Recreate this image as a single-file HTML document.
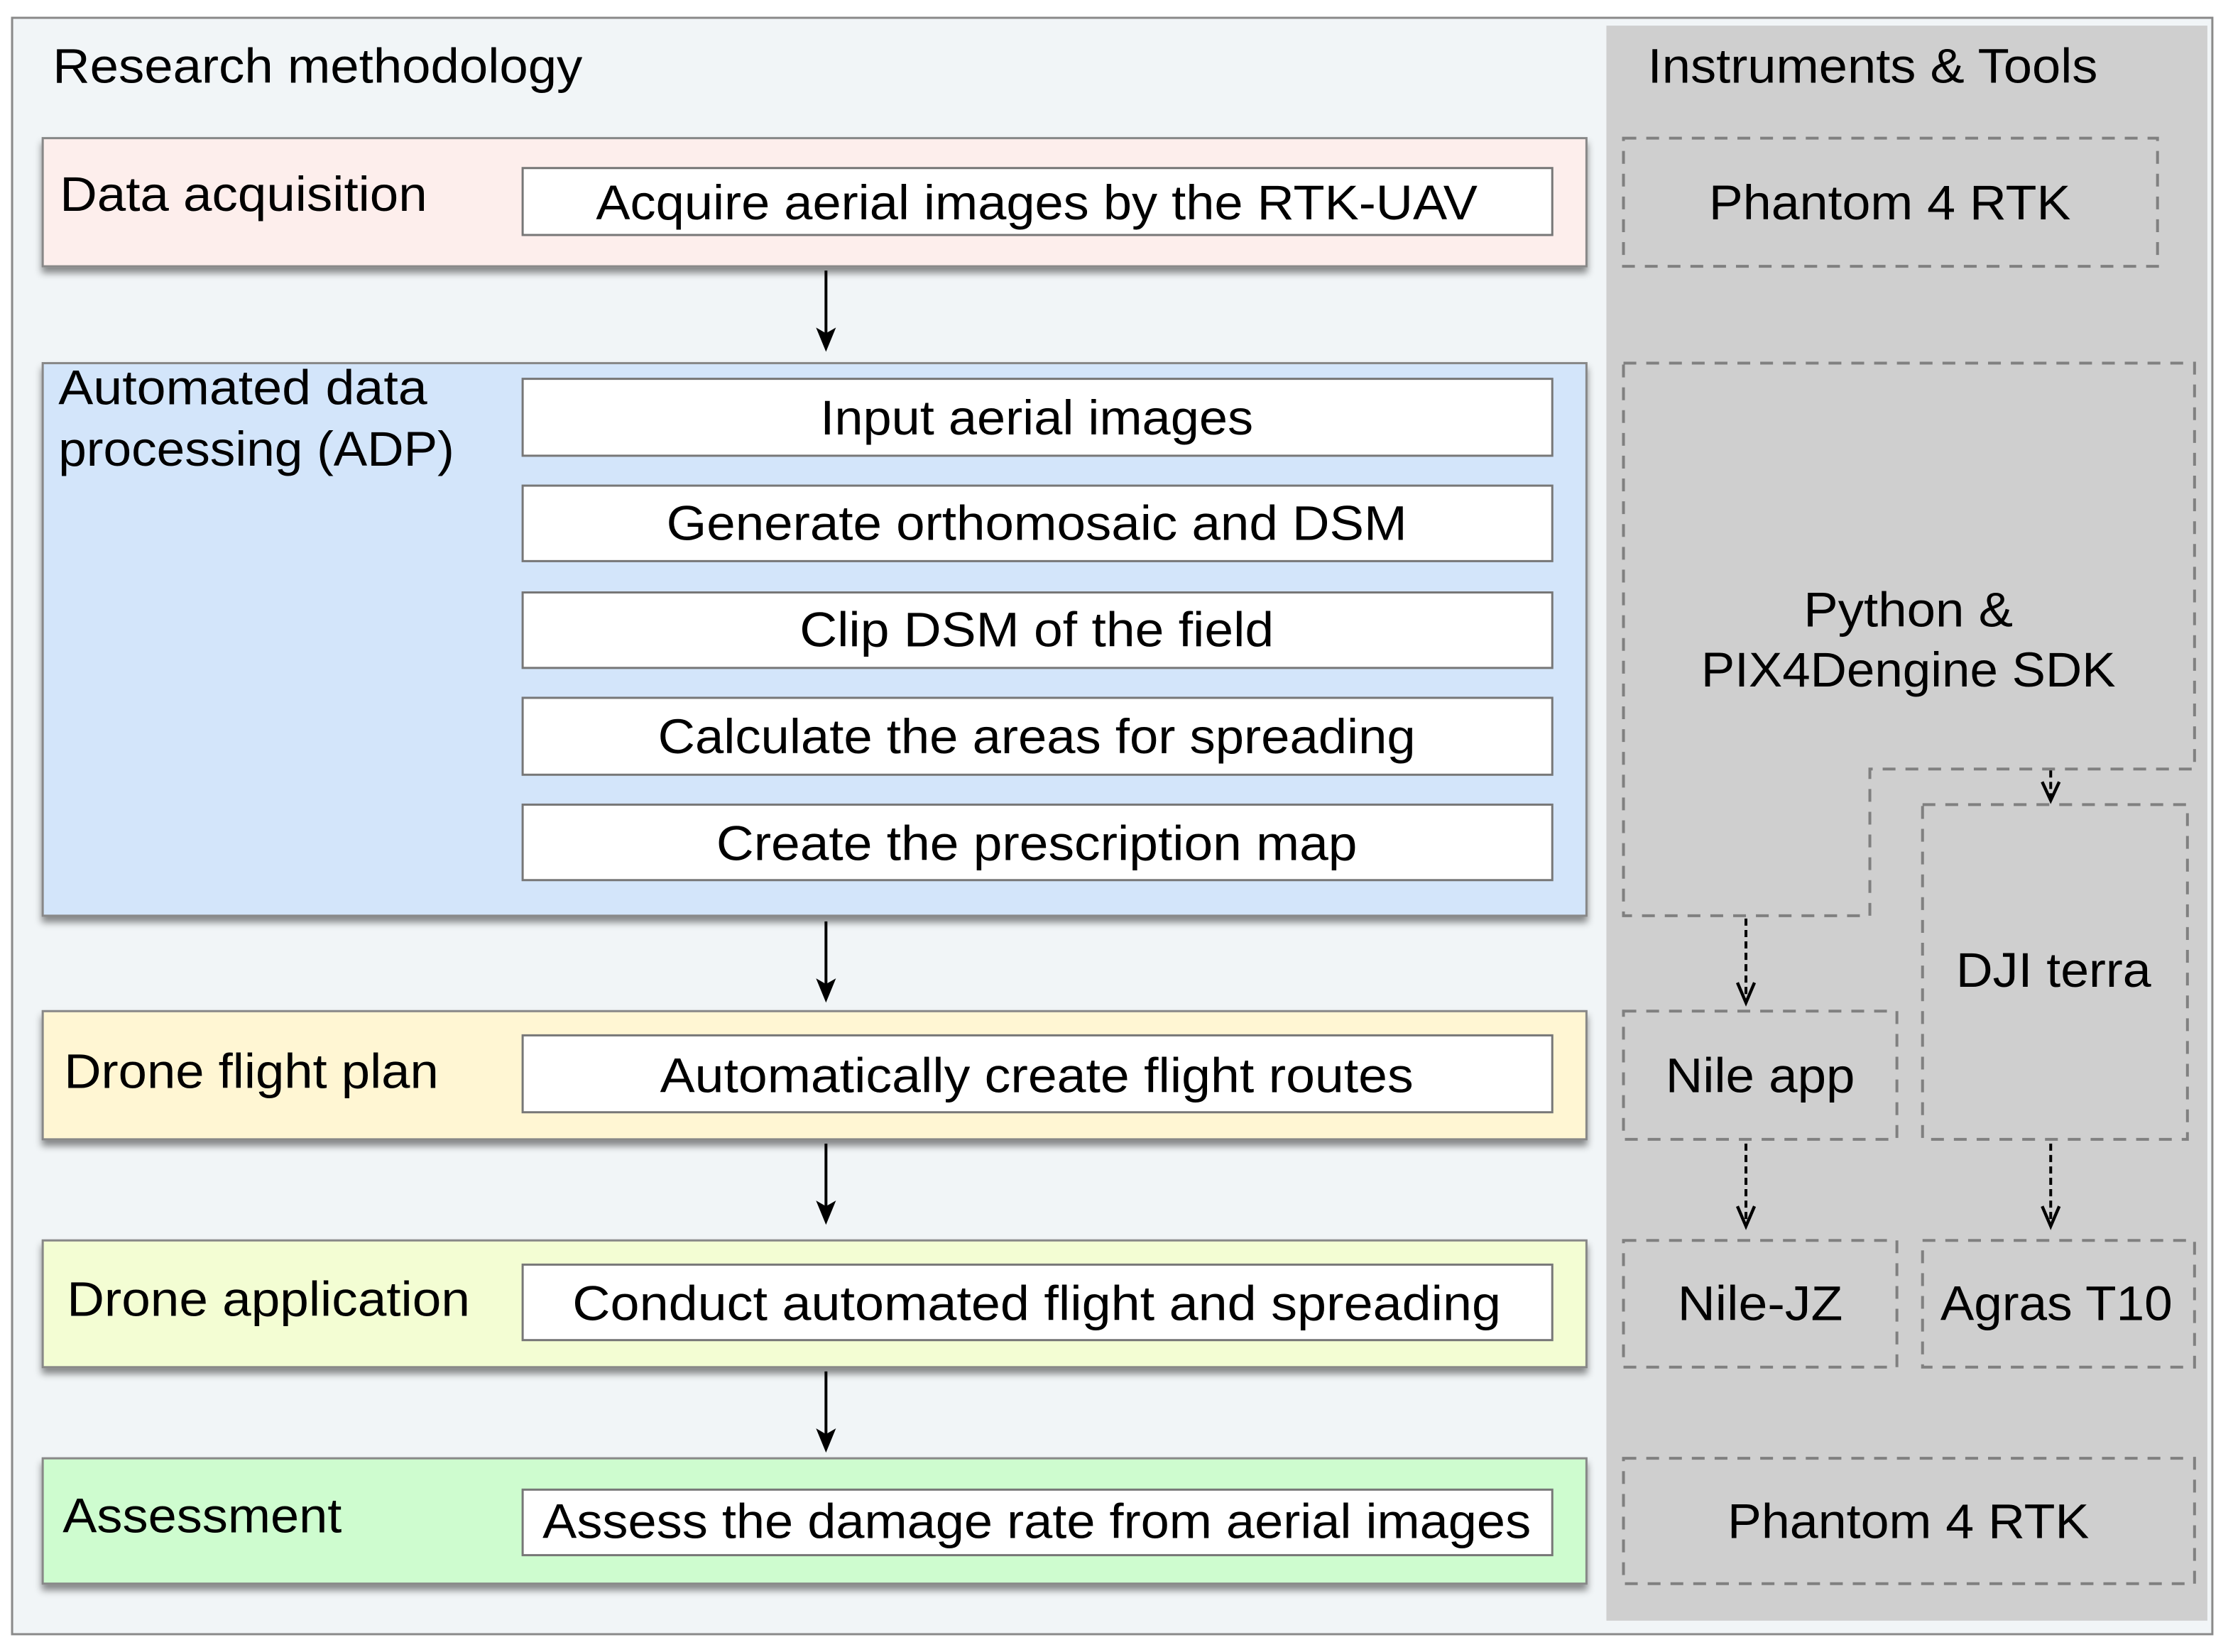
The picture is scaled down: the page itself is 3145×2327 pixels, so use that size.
<!DOCTYPE html>
<html><head><meta charset="utf-8"><style>
html,body{margin:0;padding:0;background:#fff;}
svg{display:block;}
text{font-family:"Liberation Sans",Arial,sans-serif;fill:#000;}
</style></head><body>
<svg width="3145" height="2327" viewBox="0 0 1568 1160" preserveAspectRatio="none" xmlns="http://www.w3.org/2000/svg">
<defs>
<filter id="sh" x="-5%" y="-20%" width="110%" height="150%"><feDropShadow dx="0" dy="4" stdDeviation="2.5" flood-color="#000" flood-opacity="0.45"/></filter>
</defs>
<rect x="0" y="0" width="1568" height="1160" fill="#fff"/>
<rect x="8.5" y="12.5" width="1545" height="1135" fill="#f1f5f7" stroke="#8a8a8a" stroke-width="1.5"/>
<rect x="1128" y="18" width="422" height="1120" fill="#cfcfcf"/>
<text x="37" y="58" font-size="34" textLength="372" lengthAdjust="spacingAndGlyphs">Research methodology</text>
<text x="1157" y="58" font-size="34" textLength="316" lengthAdjust="spacingAndGlyphs">Instruments &amp; Tools</text>

<g stroke="#888" stroke-width="1.5">
<rect x="30" y="97" width="1084" height="90" fill="#fdeeec" filter="url(#sh)"/>
<rect x="30" y="255" width="1084" height="388" fill="#d3e5fa" filter="url(#sh)"/>
<rect x="30" y="710" width="1084" height="90" fill="#fff6d3" filter="url(#sh)"/>
<rect x="30" y="871" width="1084" height="89" fill="#f3fdd3" filter="url(#sh)"/>
<rect x="30" y="1024" width="1084" height="88" fill="#cefccf" filter="url(#sh)"/>
</g>
<g fill="#fff" stroke="#777" stroke-width="1.5">
<rect x="367" y="118" width="723" height="47"/>
<rect x="367" y="266" width="723" height="54"/>
<rect x="367" y="341" width="723" height="53"/>
<rect x="367" y="416" width="723" height="53"/>
<rect x="367" y="490" width="723" height="54"/>
<rect x="367" y="565" width="723" height="53"/>
<rect x="367" y="727" width="723" height="54"/>
<rect x="367" y="888" width="723" height="53"/>
<rect x="367" y="1046" width="723" height="46"/>
</g>
<g font-size="34">
<text x="42" y="148" textLength="258" lengthAdjust="spacingAndGlyphs">Data acquisition</text>
<text x="41" y="284" textLength="259" lengthAdjust="spacingAndGlyphs">Automated data</text>
<text x="41" y="327" textLength="278" lengthAdjust="spacingAndGlyphs">processing (ADP)</text>
<text x="45" y="764" textLength="263" lengthAdjust="spacingAndGlyphs">Drone flight plan</text>
<text x="47" y="924" textLength="283" lengthAdjust="spacingAndGlyphs">Drone application</text>
<text x="44" y="1076" textLength="196" lengthAdjust="spacingAndGlyphs">Assessment</text>
</g>
<g font-size="34" text-anchor="middle">
<text x="728" y="154" textLength="619" lengthAdjust="spacingAndGlyphs">Acquire aerial images by the RTK-UAV</text>
<text x="728" y="305" textLength="304" lengthAdjust="spacingAndGlyphs">Input aerial images</text>
<text x="728" y="379" textLength="520" lengthAdjust="spacingAndGlyphs">Generate orthomosaic and DSM</text>
<text x="728" y="454" textLength="333" lengthAdjust="spacingAndGlyphs">Clip DSM of the field</text>
<text x="728" y="529" textLength="532" lengthAdjust="spacingAndGlyphs">Calculate the areas for spreading</text>
<text x="728" y="604" textLength="450" lengthAdjust="spacingAndGlyphs">Create the prescription map</text>
<text x="728" y="767" textLength="529" lengthAdjust="spacingAndGlyphs">Automatically create flight routes</text>
<text x="728" y="927" textLength="652" lengthAdjust="spacingAndGlyphs">Conduct automated flight and spreading</text>
<text x="728" y="1080" textLength="694" lengthAdjust="spacingAndGlyphs">Assess the damage rate from aerial images</text>
</g>
<g stroke="#000" stroke-width="2">
<line x1="580" y1="190" x2="580" y2="236"/>
<line x1="580" y1="647" x2="580" y2="693"/>
<line x1="580" y1="803" x2="580" y2="849"/>
<line x1="580" y1="963" x2="580" y2="1009"/>
</g>
<g fill="#000">
<path d="M573,230 L580,247 L587,230 L580,234 Z"/>
<path d="M573,687 L580,704 L587,687 L580,691 Z"/>
<path d="M573,843 L580,860 L587,843 L580,847 Z"/>
<path d="M573,1003 L580,1020 L587,1003 L580,1007 Z"/>
</g>

<g fill="none" stroke="#808080" stroke-width="2" stroke-dasharray="9,7">
<rect x="1140" y="97" width="375" height="90"/>
<path d="M1140,255 L1541,255 L1541,540 L1313,540 L1313,643 L1140,643 Z"/>
<rect x="1350" y="565" width="186" height="235"/>
<rect x="1140" y="710" width="192" height="90"/>
<rect x="1140" y="871" width="192" height="89"/>
<rect x="1350" y="871" width="191" height="89"/>
<rect x="1140" y="1024" width="401" height="88"/>
</g>
<g stroke="#000" stroke-width="2" stroke-dasharray="5,3" fill="none">
<line x1="1440" y1="541" x2="1440" y2="560"/>
<line x1="1226" y1="645" x2="1226" y2="702"/>
<line x1="1226" y1="803" x2="1226" y2="859"/>
<line x1="1440" y1="803" x2="1440" y2="859"/>
</g>
<g stroke="#000" stroke-width="2.2" fill="none">
<path d="M1434,549 L1440,562 L1446,549"/>
<path d="M1220,690 L1226,704 L1232,690"/>
<path d="M1220,847 L1226,861 L1232,847"/>
<path d="M1434,847 L1440,861 L1446,847"/>
</g>
<g font-size="34" text-anchor="middle">
<text x="1327" y="154" textLength="254" lengthAdjust="spacingAndGlyphs">Phantom 4 RTK</text>
<text x="1340" y="440" textLength="147" lengthAdjust="spacingAndGlyphs">Python &amp;</text>
<text x="1340" y="482" textLength="291" lengthAdjust="spacingAndGlyphs">PIX4Dengine SDK</text>
<text x="1442" y="693" textLength="137" lengthAdjust="spacingAndGlyphs">DJI terra</text>
<text x="1236" y="767" textLength="133" lengthAdjust="spacingAndGlyphs">Nile app</text>
<text x="1236" y="927" textLength="116" lengthAdjust="spacingAndGlyphs">Nile-JZ</text>
<text x="1444" y="927" textLength="163" lengthAdjust="spacingAndGlyphs">Agras T10</text>
<text x="1340" y="1080" textLength="254" lengthAdjust="spacingAndGlyphs">Phantom 4 RTK</text>
</g>
</svg>
</body></html>
